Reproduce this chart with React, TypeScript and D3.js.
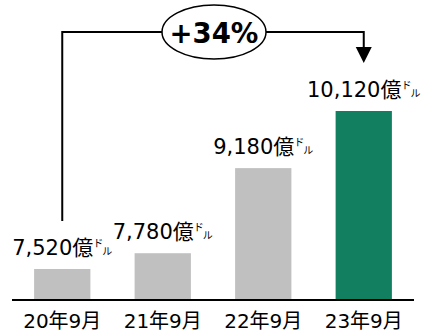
import React from "react";
import * as d3 from "d3";

const categories = ["20年9月", "21年9月", "22年9月", "23年9月"];
const values = [7520, 7780, 9180, 10120];
const valueLabels = ["7,520", "7,780", "9,180", "10,120"];
const growthLabel = "+34%";

const W = 423;
const H = 334;
const FONT = "'DejaVu Sans', Verdana, 'Noto Sans CJK JP', sans-serif";
const CJK = "'Noto Sans CJK JP', sans-serif";

export default function App() {
  const x = d3.scaleBand<string>().domain(categories).range([12, 414]).paddingInner(0.44).paddingOuter(0.22);
  const y = d3.scaleLinear().domain([7010, 10120]).range([300, 111]);
  const bw = x.bandwidth();
  const cx0 = (x(categories[0]) as number) + bw / 2;
  const cx3 = (x(categories[3]) as number) + bw / 2;
  const lineTop = 32;
  const ellCx = 214;
  const rx = 52;
  const ry = 27;
  return (
    <svg width={W} height={H} style={{ position: "absolute", left: 0, top: 0 }} fontFamily={FONT}>
      {categories.map((c, i) => (
        <rect
          key={c}
          x={x(c)}
          y={y(values[i])}
          width={bw}
          height={y(7010) - y(values[i])}
          fill={i === 3 ? "#127f61" : "#c0c0c0"}
        />
      ))}
      <line x1={12} x2={414} y1={300} y2={300} stroke="#000" strokeWidth={2} />
      {categories.map((c, i) => (
        <text key={c} x={(x(c) as number) + bw / 2} y={328} textAnchor="middle" fontSize={20} fill="#000">
          {c}
        </text>
      ))}
      {categories.map((c, i) => (
        <text key={"v" + c} x={(x(c) as number) + bw / 2} y={y(values[i]) - 14} textAnchor="middle" fontSize={21} fill="#000">
          {valueLabels[i]}億
          <tspan fontSize={10} dy={-8} fontFamily={CJK}>ド</tspan>
          <tspan fontSize={10} dy={8} dx={-1} fontFamily={CJK}>ル</tspan>
        </text>
      ))}
      <path
        d={`M${cx0},${y(values[0]) - 48} V${lineTop} H${ellCx - rx} M${ellCx + rx},${lineTop} H${cx3} V${lineTop + 16}`}
        fill="none"
        stroke="#000"
        strokeWidth={2}
      />
      <path d={`M${cx3 - 8},${lineTop + 15} L${cx3 + 8},${lineTop + 15} L${cx3},${lineTop + 31} Z`} fill="#000" />
      <ellipse cx={ellCx} cy={lineTop} rx={rx} ry={ry} fill="#fff" stroke="#000" strokeWidth={1.5} />
      <text x={ellCx} y={lineTop + 11} textAnchor="middle" fontSize={27.5} fontWeight="bold" fill="#000">
        {growthLabel}
      </text>
    </svg>
  );
}
